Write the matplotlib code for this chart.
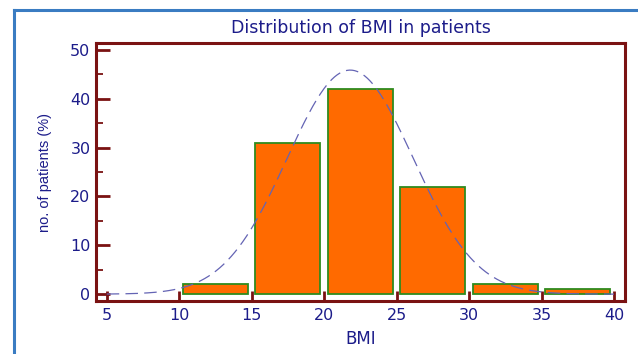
import numpy as np
import matplotlib
matplotlib.use("Agg")
import matplotlib.pyplot as plt
from matplotlib.lines import Line2D

# BMI classes (left edges, width 5) and share of patients in each (%)
bin_edges = [10, 15, 20, 25, 30, 35]
bin_width = 5
patients_pct = [2, 31, 42, 22, 2, 1]

# fitted normal curve parameters
fit_mean = 21.8
fit_sd = 4.35

x_ticks = [5, 10, 15, 20, 25, 30, 35, 40]
y_ticks = [0, 10, 20, 30, 40, 50]

navy = "#1c1c8a"
spine_red = "#7a1212"
plt.rcParams["font.family"] = ["DejaVu Sans"]

fig = plt.figure(figsize=(6.38, 3.54), dpi=100)
ax = fig.add_axes([96 / 638, 1 - 301 / 354, (625 - 96) / 638, (301 - 43) / 354])

centers = [e + bin_width / 2 for e in bin_edges]
ax.bar(centers, patients_pct, width=bin_width * 0.9, color="#ff6a00",
       edgecolor="#2e8b1e", linewidth=1.3, zorder=2)

xs = np.linspace(5, 40, 400)
ys = 100 * bin_width / (fit_sd * np.sqrt(2 * np.pi)) * np.exp(-0.5 * ((xs - fit_mean) / fit_sd) ** 2)
ax.plot(xs, ys, color="#6464b4", linewidth=0.9, dashes=(10, 5), zorder=3)

ax.set_xlim(4.26, 40.76)
ax.set_ylim(-1.4, 51.4)
ax.set_xticks(x_ticks)
ax.set_yticks(y_ticks)
ax.set_yticks(np.arange(5, 50, 10), minor=True)

for s in ax.spines.values():
    s.set_color(spine_red)
    s.set_linewidth(2.2)

ax.tick_params(axis="both", which="major", direction="in", color=spine_red,
               width=2, labelcolor=navy, labelsize=11.5)
ax.tick_params(axis="y", which="major", length=10, pad=4)
ax.tick_params(axis="x", which="major", length=7, pad=5)
ax.tick_params(axis="y", which="minor", direction="in", color=spine_red,
               width=1.3, length=5)

ax.set_title("Distribution of BMI in patients", color=navy, fontsize=12.5, pad=7)
ax.set_xlabel("BMI", color=navy, fontsize=12, labelpad=5)
ax.set_ylabel("no. of patients (%)", color=navy, fontsize=10.5, labelpad=13,
              family=["Liberation Sans", "DejaVu Sans"])

# outer blue frame (left and top edges)
frame = "#3a7cc2"
fig.add_artist(Line2D([14 / 638, 14 / 638], [0, 1 - 10 / 354], color=frame,
                      linewidth=2.2, transform=fig.transFigure))
fig.add_artist(Line2D([14 / 638, 1], [1 - 10 / 354, 1 - 10 / 354], color=frame,
                      linewidth=2.2, transform=fig.transFigure))

fig.savefig("out.png", dpi=100)
